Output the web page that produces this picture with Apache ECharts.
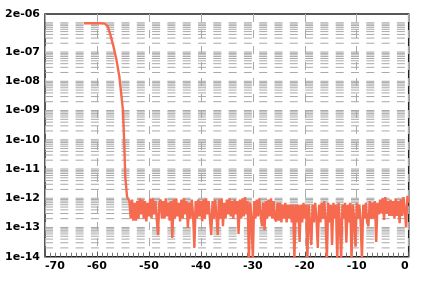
<!DOCTYPE html>
<html><head><meta charset="utf-8">
<script src="https://cdn.jsdelivr.net/npm/echarts@6/dist/echarts.min.js"></script>
<style>html,body{margin:0;padding:0;background:#fff}#c{width:424px;height:284px}</style>
</head><body><div id="c"></div>
<script>
// Tick labels
const xTickLabels = ['-70','-60','-50','-40','-30','-20','-10','0'];
const yTickLabels = ['1e-14','1e-13','1e-12','1e-11','1e-10','1e-09','1e-08','1e-07','2e-06'];

// Plateau and steep fall
const rampX = [-62.5,-61,-59.5,-58.5,-57.9,-57.4,-56.8,-56.25,-55.7,-55.35,-55.0,-54.75,-54.55,-54.2];
const rampY = [9.6e-7,9.6e-7,9.6e-7,9.5e-7,7.4e-7,3.8e-7,1.5e-7,5.4e-8,1.5e-8,4e-9,1.05e-9,7.8e-11,5.4e-12,1.1e-12];

// Noise floor (one point every 0.25)
const floorX = [
  -53.75,-53.5,-53.25,-53, -52.75,-52.5,-52.25,-52, -51.75,-51.5,-51.25,-51, -50.75,-50.5,-50.25,-50,
  -49.75,-49.5,-49.25,-49, -48.75,-48.5,-48.25,-48, -47.75,-47.5,-47.25,-47, -46.75,-46.5,-46.25,-46,
  -45.75,-45.5,-45.25,-45, -44.75,-44.5,-44.25,-44, -43.75,-43.5,-43.25,-43, -42.75,-42.5,-42.25,-42,
  -41.75,-41.5,-41.25,-41, -40.75,-40.5,-40.25,-40, -39.75,-39.5,-39.25,-39, -38.75,-38.5,-38.25,-38,
  -37.75,-37.5,-37.25,-37, -36.75,-36.5,-36.25,-36, -35.75,-35.5,-35.25,-35, -34.75,-34.5,-34.25,-34,
  -33.75,-33.5,-33.25,-33, -32.75,-32.5,-32.25,-32, -31.75,-31.5,-31.25,-31, -30.75,-30.5,-30.25,-30,
  -29.75,-29.5,-29.25,-29, -28.75,-28.5,-28.25,-28, -27.75,-27.5,-27.25,-27, -26.75,-26.5,-26.25,-26,
  -25.75,-25.5,-25.25,-25, -24.75,-24.5,-24.25,-24, -23.75,-23.5,-23.25,-23, -22.75,-22.5,-22.25,-22,
  -21.75,-21.5,-21.25,-21, -20.75,-20.5,-20.25,-20, -19.75,-19.5,-19.25,-19, -18.75,-18.5,-18.25,-18,
  -17.75,-17.5,-17.25,-17, -16.75,-16.5,-16.25,-16, -15.75,-15.5,-15.25,-15, -14.75,-14.5,-14.25,-14,
  -13.75,-13.5,-13.25,-13, -12.75,-12.5,-12.25,-12, -11.75,-11.5,-11.25,-11, -10.75,-10.5,-10.25,-10,
  -9.75,-9.5,-9.25,-9, -8.75,-8.5,-8.25,-8, -7.75,-7.5,-7.25,-7, -6.75,-6.5,-6.25,-6,
  -5.75,-5.5,-5.25,-5, -4.75,-4.5,-4.25,-4, -3.75,-3.5,-3.25,-3, -2.75,-2.5,-2.25,-2,
  -1.75,-1.5,-1.25,-1, -0.75,-0.5,-0.25,0
];
const floorY = [
  8e-13,2e-13,9e-13,1.7e-13, 7e-13,1.7e-13,8e-13,2e-13, 1e-12,2.8e-13,9e-13,2e-13, 8e-13,1.6e-13,7e-13,2.4e-13,
  1e-12,2e-13,1e-12,2.8e-13, 8e-13,2e-13,5.5e-14,7e-13, 9e-13,2e-13,8e-13,2e-13, 1e-12,2.4e-13,7e-13,1.7e-13,
  8e-13,4.4e-14,9e-13,2e-13, 1e-12,2.4e-13,7e-13,1.6e-13, 9e-13,2e-13,1e-12,2.8e-13, 8e-13,9.6e-14,7e-13,2e-13,
  9e-13,2.8e-13,2e-14,8e-13, 2e-13,9e-13,2.4e-13,8e-13, 1.6e-13,9e-13,2e-13,1e-12, 2.8e-13,8e-13,2e-13,5.5e-14,
  8e-13,2e-13,9e-13,2.4e-13, 5.5e-14,9e-13,2e-13,1e-12, 1.1e-13,7e-13,2e-13,9e-13, 2.8e-13,1e-12,2.4e-13,8e-13,
  2e-13,9e-13,2.8e-13,8e-13, 6e-14,9e-13,2e-13,1e-12, 2.4e-13,1.1e-12,2.8e-13,8e-13, 8e-15,7e-13,2e-13,8e-15,
  8e-13,2e-13,9e-13,2.4e-13, 1e-12,2.8e-13,1.1e-13,7e-13, 8e-14,8e-13,2e-13,9e-13, 2.4e-13,1e-12,2e-13,8e-13,
  2e-13,1.6e-13,7e-13,1.7e-13, 7e-13,1.5e-13,6e-13,2e-13, 7e-13,1.5e-13,6e-13,2e-13, 6e-13,1.5e-13,6e-13,8e-15,
  6e-13,1.5e-13,6e-13,3.2e-14, 6e-13,1.5e-13,7e-13,2e-13, 6e-13,8e-15,6e-13,1.5e-13, 2.5e-14,6e-13,1.5e-13,7e-13,
  2e-13,2e-14,6e-13,1.5e-13, 7e-13,2e-13,8e-13,2e-13, 8e-15,7e-13,1.5e-13,6e-13, 2.5e-14,7e-13,2e-13,6e-13,
  8e-15,7e-13,1.5e-13,8e-15, 6e-13,2e-13,7e-13,3e-14, 6e-13,1.5e-13,7e-13,8e-15, 6e-13,2e-13,2.2e-14,7e-13,
  2e-13,6e-13,1.5e-13,8e-15, 6e-13,2e-13,7e-13,1.5e-13, 1.1e-13,8e-13,2e-13,7e-13, 2e-13,8e-13,3.2e-14,7e-13,
  2.8e-13,9e-13,3e-13,1e-12, 1.8e-13,1.1e-12,3e-13,8e-13, 2.5e-13,9e-13,2.5e-13,8e-13, 2e-13,1e-12,2.5e-13,8e-13,
  1.4e-13,9e-13,2.5e-13,1.1e-12, 4e-13,1e-13,1.2e-12,7e-13
];

// Log grid lines: multipliers within each decade
const gridDecades = [-14,-13,-12,-11,-10,-9,-8,-7,-6];
const gridMultipliers = [1,2,3,4,5,6,7,8,9];

const xMin = -70, xMax = 0, yMin = 1e-14, yMax = 2e-6;
const gridVals = [];
gridDecades.forEach(d => gridMultipliers.forEach(m => {
  const v = m * Math.pow(10, d);
  if (v > yMin * 1.0001 && v < yMax * 0.9999) gridVals.push(v);
}));

function fmtY(v) {
  const e = Math.floor(Math.log10(v) + 1e-9);
  const m = Math.round(v / Math.pow(10, e));
  const s = m + 'e-' + String(-e).padStart(2, '0');
  return yTickLabels.includes(s) ? s : '';
}

const allX = rampX.concat(floorX);
const allY = rampY.concat(floorY);

const gridSeries = gridVals.map(v => ({
  type: 'line', silent: true, showSymbol: false, symbol: 'none', z: 1,
  data: [[xMin, v], [xMax, v]],
  lineStyle: {color: '#a8a8a8', width: 1, type: [8, 7.3]}
}));

const chart = echarts.init(document.getElementById('c'), null, {renderer: 'canvas'});
const labelFont = {fontFamily: 'DejaVu Sans', fontWeight: 'bold', fontSize: 11, color: '#000'};
chart.setOption({
  animation: false,
  backgroundColor: '#fff',
  grid: {left: 45, right: 15.3, top: 14, bottom: 27.3, show: true, borderColor: '#222', borderWidth: 1.5, backgroundColor: 'transparent'},
  xAxis: {
    type: 'value', min: xMin, max: xMax, interval: 10,
    axisLine: {show: false},
    axisTick: {show: true, inside: true, length: 5, lineStyle: {color: '#555', width: 1}},
    minorTick: {show: true, splitNumber: 10, length: 4, lineStyle: {color: '#777', width: 1}},
    splitLine: {show: true, lineStyle: {color: '#aaa', width: 1, type: [8, 8]}},
    axisLabel: Object.assign({margin: 4, alignMinLabel: 'left', alignMaxLabel: 'right',
      formatter: v => xTickLabels.includes(String(v)) ? String(v) : ''}, labelFont)
  },
  yAxis: {
    type: 'log', min: yMin, max: yMax, splitNumber: 10,
    axisLine: {show: false},
    axisTick: {show: false},
    splitLine: {show: false},
    axisLabel: Object.assign({margin: 5, padding: [0, 0, 5, 0], formatter: fmtY}, labelFont)
  },
  series: gridSeries.concat([{
    type: 'line',
    data: allX.map((x, i) => [x, allY[i]]),
    showSymbol: false,
    clip: true,
    lineStyle: {color: '#f66a4f', width: 2.4},
    z: 5
  }])
});
</script></body></html>
